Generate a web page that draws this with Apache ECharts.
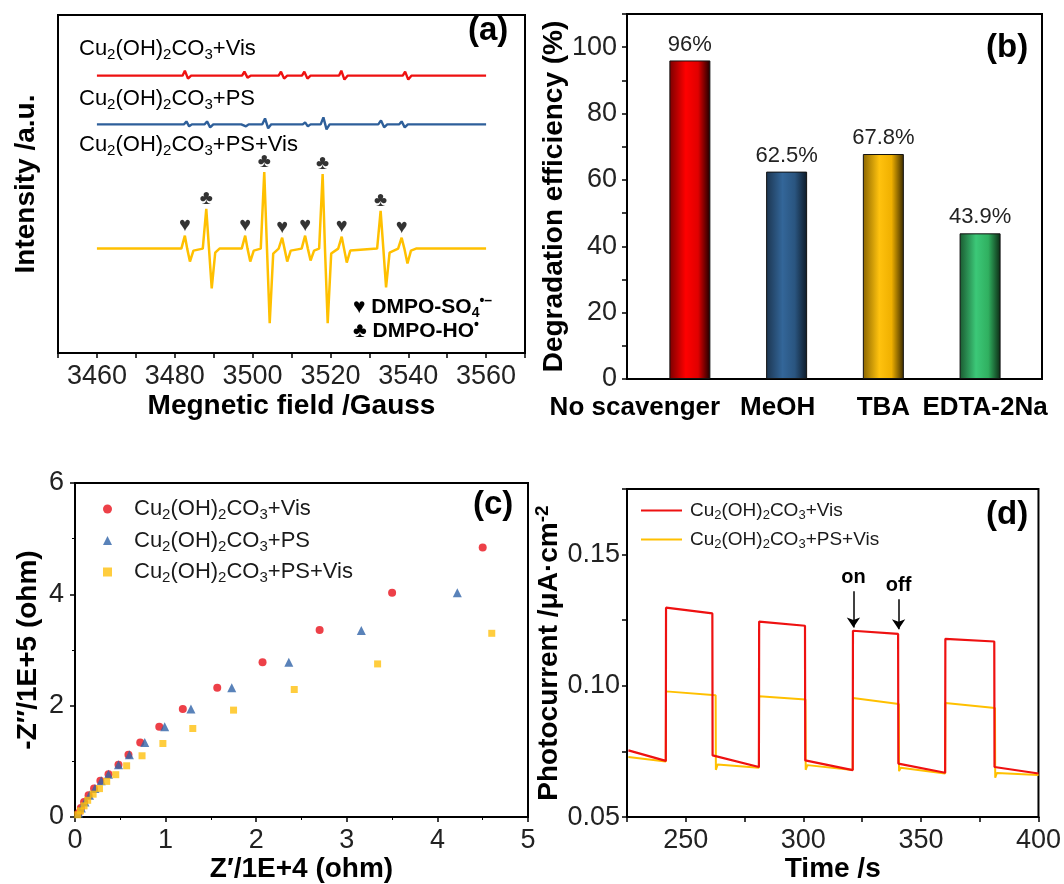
<!DOCTYPE html>
<html>
<head>
<meta charset="utf-8">
<script src="https://cdn.jsdelivr.net/npm/echarts@6/dist/echarts.min.js"></script>
<style>
  html, body { margin: 0; padding: 0; background: #fff; }
  #main { width: 1064px; height: 884px; }
</style>
</head>
<body>
<div id="main"></div>
<script>
// (a) EPR spectra, [field /Gauss, intensity a.u.]
const eprVis = [[3460,279],[3482.0,279],[3482.6,284],[3483.4,276],[3484.2,279],[3497.3,279],[3497.9,283],[3498.7,277],[3499.5,279],
  [3506.7,279],[3507.3,283],[3508.1,276],[3508.9,279],[3512.7,279],[3513.3,283],[3514.1,276],[3514.9,279],[3522.2,279],[3522.8,284],
  [3523.6,275],[3524.4,279],[3538.6,279],[3539.2,283],[3540.0,275],[3540.8,279],[3560,279]]
const eprPS = [[3460,230],[3482.4,230],[3483.0,233],[3483.7,228],[3484.4,230],[3487.7,230],[3488.3,233],[3489.1,227],[3489.9,230],
  [3497.1,230],[3497.6,232],[3498.3,228],[3499,230],[3502.5,230],[3503.2,236],[3504.0,226],[3504.8,230],[3512.9,230],[3513.5,232],
  [3514.2,228],[3514.9,230],[3517.5,230],[3518.2,237],[3519.0,225],[3519.8,230],[3532.3,230],[3533.0,234],[3533.8,227],[3534.6,230],
  [3537.7,230],[3538.3,233],[3539.1,227],[3539.9,230],[3560,230]]
const eprPSVis = [[3460,105],[3481.7,105],[3482.6,118],[3483.2,105],[3483.9,92],[3484.8,103],[3487.2,105],[3488.1,145],[3488.8,105],
  [3489.5,65],[3490.4,101],[3491.5,105],[3497.2,105],[3498.1,118],[3498.7,105],[3499.4,92],[3500.3,103],[3502.1,105],[3503.0,182],
  [3503.7,105],[3504.4,30],[3505.3,100],[3506.7,105],[3507.6,116],[3508.2,105],[3508.9,92],[3509.8,103],[3512.6,105],[3513.5,118],
  [3514.2,105],[3514.9,93],[3515.8,103],[3517.1,105],[3518.0,180],[3518.6,105],[3519.3,30],[3520.2,100],[3522.0,105],[3522.9,117],
  [3523.5,105],[3524.2,91],[3525.1,103],[3532.0,105],[3532.9,143],[3533.6,105],[3534.3,66],[3535.2,101],[3537.4,105],[3538.3,116],
  [3539.0,105],[3539.8,90],[3540.7,103],[3542,105],[3560,105]]
const heartPeaks = [[3482.6,118],[3498.1,118],[3507.6,116],[3513.5,118],[3522.9,117],[3538.3,116]]
const clubPeaks = [[3488.1,145],[3503.0,182],[3518.0,180],[3532.9,143]]

// (b) scavenger test
const scavengers = ['No scavenger', 'MeOH', 'TBA', 'EDTA-2Na']
const degradation = [96, 62.5, 67.8, 43.9]

// (c) Nyquist plot, [Z'/1E+4, -Z''/1E+5]
const eisVis = [[4.50,4.84],[3.50,4.03],[2.70,3.36],[2.07,2.78],[1.57,2.32],[1.19,1.94],[0.93,1.62],[0.72,1.34],[0.59,1.12],
  [0.48,0.94],[0.37,0.77],[0.28,0.65],[0.21,0.51],[0.15,0.39],[0.10,0.27],[0.065,0.16],[0.04,0.07]]
const eisPS = [[4.22,4.03],[3.16,3.35],[2.36,2.78],[1.73,2.32],[1.28,1.94],[0.99,1.62],[0.77,1.34],[0.60,1.12],[0.48,0.94],
  [0.37,0.77],[0.29,0.65],[0.22,0.51],[0.16,0.39],[0.11,0.27],[0.07,0.16],[0.04,0.07]]
const eisPSVis = [[4.60,3.30],[3.34,2.75],[2.42,2.29],[1.75,1.92],[1.30,1.59],[0.97,1.32],[0.74,1.10],[0.57,0.92],[0.45,0.76],
  [0.35,0.64],[0.27,0.51],[0.20,0.41],[0.14,0.30],[0.10,0.20],[0.06,0.11],[0.03,0.04]]

// (d) photocurrent, [time /s, current]
const pcVis = [[225.6,0.0754],[241.5,0.0714],[241.6,0.1298],[261.3,0.1276],[261.4,0.0735],[281.1,0.0691],[281.2,0.1245],
  [300.7,0.1229],[300.8,0.0716],[321.0,0.0679],[321.1,0.1210],[340.3,0.1198],[340.4,0.0704],[360.3,0.0669],[360.4,0.1179],
  [381.2,0.1169],[381.3,0.0691],[400,0.0666]]
const pcPSVis = [[225.6,0.0729],[241.5,0.0712],[241.6,0.0979],[262.7,0.0964],[262.8,0.0680],[263.5,0.0700],[281.1,0.0688],
  [281.2,0.0960],[300.9,0.0948],[301.0,0.0680],[301.7,0.0698],[321.0,0.0679],[321.1,0.0954],[340.6,0.0931],[340.7,0.0675],
  [341.4,0.0688],[360.3,0.0666],[360.4,0.0935],[381.5,0.0916],[381.6,0.0650],[382.3,0.0668],[400,0.0660]]
const onOff = [['on', 321.3, 0.136, 0.1222], ['off', 340.5, 0.133, 0.1216]]

const FONT = 'Liberation Sans, Arial, sans-serif'
const labelOf = {
  vis: 'Cu2(OH)2CO3+Vis', ps: 'Cu2(OH)2CO3+PS', psvis: 'Cu2(OH)2CO3+PS+Vis',
  dvis: 'Cu2(OH)2CO3+Vis', dpsvis: 'Cu2(OH)2CO3+PS+Vis'
}

function rich(size, bold, gap) {
  let w = bold ? 'bold' : 'normal'
  let small = Math.round(size * 0.66)
  return {
    n: { fontSize: size, fontWeight: w, fontFamily: FONT, color: '#1a1a1a', lineHeight: Math.round(size * 1.15) },
    s: { fontSize: small, fontWeight: w, fontFamily: FONT, color: '#1a1a1a', padding: [Math.round(size * 0.55), 0, 0, 0] },
    p: { fontSize: small, fontWeight: w, fontFamily: FONT, color: '#1a1a1a', padding: [0, 0, Math.round(size * 0.55), 0] },
    g: { width: gap || 0 }
  }
}
// digits in a formula become subscripts
function chem(txt) {
  return '{n|' + txt.replace(/(\d)/g, '}{s|$1}{n|') + '}'
}

function gradient(edge, mid, mid2, dark) {
  return new echarts.graphic.LinearGradient(0, 0, 1, 0, [
    { offset: 0, color: edge }, { offset: 0.4, color: mid }, { offset: 0.7, color: mid2 }, { offset: 1, color: dark }
  ])
}
const barColors = [
  gradient('#7a0000', '#ff0000', '#e00000', '#1a0000'),
  gradient('#1c3550', '#336699', '#2a5580', '#0d1a28'),
  gradient('#8a6500', '#ffc20e', '#f0b000', '#3a2a00'),
  gradient('#1a5a30', '#3cc878', '#30b060', '#0c2a14')
]
// label tokens for the bar categories (first ones sit a bit left of their bar)
const catToken = ['l', 'm', 'c', 'e']

const axisLineStyle = { lineStyle: { color: '#000', width: 2 } }
const tickStyle = { inside: false, length: 5, lineStyle: { color: '#000', width: 1.5 } }
const tickLabel = { color: '#222', fontSize: 27, fontFamily: FONT }
const titleStyle = { color: '#000', fontSize: 28, fontWeight: 'bold', fontFamily: FONT }
const gridBox = { show: true, borderColor: '#000', borderWidth: 2 }
const catStyle = { fontSize: 26, fontWeight: 'bold', fontFamily: FONT, color: '#000' }

const chart = echarts.init(document.getElementById('main'))

const option = {
  backgroundColor: '#ffffff',
  animation: false,
  grid: [
    Object.assign({ left: 58, top: 15, width: 467, height: 338 }, gridBox),
    Object.assign({ left: 627, top: 14, width: 415, height: 365 }, gridBox),
    Object.assign({ left: 75, top: 483, width: 453, height: 336 }, gridBox),
    Object.assign({ left: 627, top: 489, width: 412, height: 333 }, gridBox)
  ],
  xAxis: [
    {
      type: 'value', gridIndex: 0, min: 3450, max: 3570, interval: 10,
      axisLine: axisLineStyle, axisTick: tickStyle, splitLine: { show: false },
      axisLabel: Object.assign({ margin: 10, formatter: v => (v % 20 === 0 && v >= 3460 && v <= 3560) ? v : '' }, tickLabel),
      name: 'Megnetic field /Gauss', nameLocation: 'middle', nameGap: 39, nameTextStyle: titleStyle
    },
    {
      type: 'value', gridIndex: 1, min: 0.35, max: 4.64,
      axisLine: axisLineStyle, axisTick: { show: false }, splitLine: { show: false },
      axisLabel: {
        customValues: [1, 2, 3, 4], margin: 16,
        formatter: v => {
          let i = Math.round(v) - 1
          return '{' + catToken[i] + '|' + scavengers[i] + '}'
        },
        rich: {
          l: Object.assign({ padding: [0, 110, 0, 0] }, catStyle),
          m: Object.assign({ padding: [0, 18, 0, 0] }, catStyle),
          c: catStyle,
          e: Object.assign({ padding: [0, 0, 0, 10] }, catStyle)
        }
      }
    },
    {
      type: 'value', gridIndex: 2, min: 0, max: 5, interval: 1,
      axisLine: axisLineStyle, axisTick: tickStyle, splitLine: { show: false },
      minorTick: { show: true, splitNumber: 2, length: 3, lineStyle: { color: '#000' } },
      axisLabel: Object.assign({ margin: 10 }, tickLabel),
      name: 'Z\u2032/1E+4 (ohm)', nameLocation: 'middle', nameGap: 38, nameTextStyle: titleStyle
    },
    {
      type: 'value', gridIndex: 3, min: 225, max: 400, interval: 25,
      axisLine: axisLineStyle, axisTick: tickStyle, splitLine: { show: false },
      axisLabel: Object.assign({ margin: 10, formatter: v => v % 50 === 0 ? v : '' }, tickLabel),
      name: 'Time /s', nameLocation: 'middle', nameGap: 37, nameTextStyle: titleStyle
    }
  ],
  yAxis: [
    {
      type: 'value', gridIndex: 0, min: 0, max: 340,
      axisLine: axisLineStyle, axisTick: { show: false }, axisLabel: { show: false }, splitLine: { show: false },
      name: 'Intensity /a.u.', nameLocation: 'middle', nameRotate: 90, nameGap: 18, nameTextStyle: titleStyle
    },
    {
      type: 'value', gridIndex: 1, min: 0, max: 110, interval: 10,
      axisLine: axisLineStyle, axisTick: tickStyle, splitLine: { show: false },
      axisLabel: Object.assign({ margin: 10, formatter: v => (v % 20 === 0 && v <= 100) ? v : '' }, tickLabel),
      name: 'Degradation efficiency (%)', nameLocation: 'middle', nameRotate: 90, nameGap: 59,
      nameTextStyle: titleStyle
    },
    {
      type: 'value', gridIndex: 2, min: 0, max: 6, interval: 2,
      axisLine: axisLineStyle, axisTick: tickStyle, splitLine: { show: false },
      minorTick: { show: true, splitNumber: 2, length: 3, lineStyle: { color: '#000' } },
      axisLabel: Object.assign({ margin: 11 }, tickLabel),
      name: '-Z\u2033/1E+5 (ohm)', nameLocation: 'middle', nameRotate: 90, nameGap: 33,
      nameTextStyle: titleStyle
    },
    {
      type: 'value', gridIndex: 3, min: 0.05, max: 0.175, interval: 0.025,
      axisLine: axisLineStyle, axisTick: tickStyle, splitLine: { show: false },
      axisLabel: Object.assign({
        margin: 7,
        formatter: v => { let k = Math.round(v * 1000); return k % 50 === 0 ? (k / 1000).toFixed(2) : '' }
      }, tickLabel),
      name: 'Photocurrent /\u03bcA\u00b7cm{p|-2}', nameLocation: 'middle', nameRotate: 90, nameGap: 61,
      nameTextStyle: Object.assign({}, titleStyle, { rich: { p: { fontSize: 19, fontWeight: 'bold', fontFamily: FONT, color: '#000', padding: [0, 0, 14, 0] } } })
    }
  ],
  legend: [
    {
      data: ['vis', 'ps', 'psvis'], orient: 'vertical', left: 98, top: 493, itemGap: 7,
      itemWidth: 9, itemHeight: 9, selectedMode: false,
      formatter: n => '{g|}' + chem(labelOf[n]), textStyle: { rich: rich(22, false, 17) }
    },
    {
      data: ['dvis', 'dpsvis'], orient: 'vertical', left: 636, top: 496, itemGap: 8,
      itemWidth: 41, itemHeight: 2, icon: 'rect', selectedMode: false,
      formatter: n => '{g|}' + chem(labelOf[n]), textStyle: { rich: rich(19, false, 3) }
    }
  ],
  graphic: [
    { type: 'text', left: 468, top: 14, style: { text: '(a)', font: 'bold 33px ' + FONT, fill: '#000' } },
    { type: 'text', left: 986, top: 31, style: { text: '(b)', font: 'bold 33px ' + FONT, fill: '#000' } },
    { type: 'text', left: 473, top: 488, style: { text: '(c)', font: 'bold 33px ' + FONT, fill: '#000' } },
    { type: 'text', left: 986, top: 498, style: { text: '(d)', font: 'bold 33px ' + FONT, fill: '#000' } },
    { type: 'text', left: 79, top: 38, style: { text: chem(labelOf.vis), rich: rich(22) } },
    { type: 'text', left: 79, top: 88, style: { text: chem(labelOf.ps), rich: rich(22) } },
    { type: 'text', left: 79, top: 134, style: { text: chem(labelOf.psvis), rich: rich(22) } },
    { type: 'text', left: 353, top: 294, style: { text: '{n|\u2665 DMPO-SO}{s|4}{p|\u2022\u2013}', rich: rich(21, true) } },
    { type: 'text', left: 353, top: 318, style: { text: '{n|\u2663 DMPO-HO}{p|\u2022}', rich: rich(21, true) } }
  ],
  series: [
    { type: 'line', name: 'aVis', xAxisIndex: 0, yAxisIndex: 0, data: eprVis, showSymbol: false, lineStyle: { color: '#ee1111', width: 2.4 } },
    { type: 'line', name: 'aPS', xAxisIndex: 0, yAxisIndex: 0, data: eprPS, showSymbol: false, lineStyle: { color: '#2e5f9a', width: 2.4 } },
    { type: 'line', name: 'aPSVis', xAxisIndex: 0, yAxisIndex: 0, data: eprPSVis, showSymbol: false, lineStyle: { color: '#ffc000', width: 2.5 } },
    {
      type: 'scatter', xAxisIndex: 0, yAxisIndex: 0, data: heartPeaks, symbolSize: 1, itemStyle: { color: 'rgba(0,0,0,0)' },
      label: { show: true, position: 'top', distance: 0, formatter: '\u2665', fontSize: 20, color: '#000' }
    },
    {
      type: 'scatter', xAxisIndex: 0, yAxisIndex: 0, data: clubPeaks, symbolSize: 1, itemStyle: { color: 'rgba(0,0,0,0)' },
      label: { show: true, position: 'top', distance: 0, formatter: '\u2663', fontSize: 20, color: '#000' }
    },
    {
      type: 'bar', xAxisIndex: 1, yAxisIndex: 1, barWidth: 41,
      data: scavengers.map((s, i) => ({ value: [i + 1, degradation[i]], itemStyle: { color: barColors[i], borderColor: '#111', borderWidth: 1 } })),
      label: { show: true, position: 'top', distance: 5, formatter: p => degradation[p.dataIndex] + '%', fontSize: 22, fontFamily: FONT, color: '#222' }
    },
    { type: 'scatter', name: 'vis', xAxisIndex: 2, yAxisIndex: 2, data: eisVis, symbol: 'circle', symbolSize: 8, itemStyle: { color: '#e8101a' } },
    { type: 'scatter', name: 'ps', xAxisIndex: 2, yAxisIndex: 2, data: eisPS, symbol: 'triangle', symbolSize: 9, itemStyle: { color: '#2f63a8' } },
    { type: 'scatter', name: 'psvis', xAxisIndex: 2, yAxisIndex: 2, data: eisPSVis, symbol: 'rect', symbolSize: 7, itemStyle: { color: '#ffc10e' } },
    {
      type: 'line', name: 'dpsvis', xAxisIndex: 3, yAxisIndex: 3, data: pcPSVis, showSymbol: false, z: 2,
      itemStyle: { color: '#ffc000' }, lineStyle: { color: '#ffc000', width: 2 }
    },
    {
      type: 'line', name: 'dvis', xAxisIndex: 3, yAxisIndex: 3, data: pcVis, showSymbol: false, z: 3,
      itemStyle: { color: '#ee1111' }, lineStyle: { color: '#ee1111', width: 2.2 },
      markLine: {
        silent: true, symbol: ['none', 'arrow'], symbolSize: 10,
        lineStyle: { color: '#000', width: 1.5, type: 'solid' },
        label: { show: true, position: 'start', formatter: '{b}', fontSize: 20, fontWeight: 'bold', fontFamily: FONT, color: '#000', distance: 4 },
        data: onOff.map(a => [{ name: a[0], coord: [a[1], a[2]] }, { coord: [a[1], a[3]] }])
      }
    }
  ]
}

chart.setOption(option)
</script>
</body>
</html>
